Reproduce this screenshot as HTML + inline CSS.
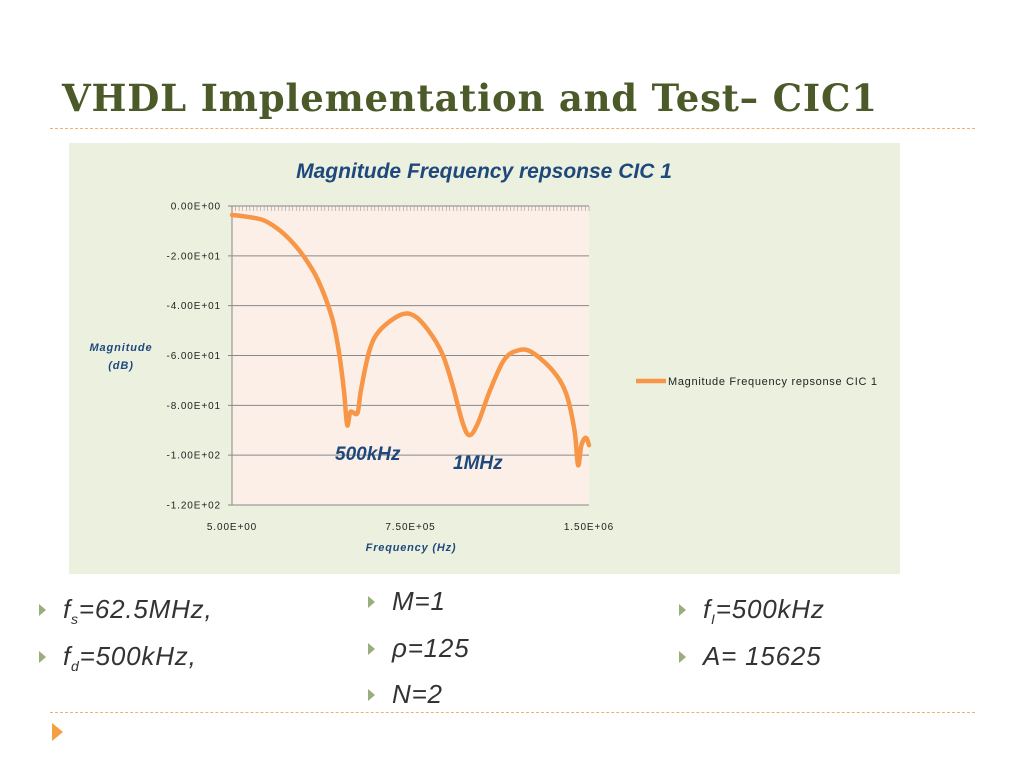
<!DOCTYPE html>
<html><head><meta charset="utf-8"><style>
body{margin:0;width:1024px;height:768px;background:#fff;position:relative;overflow:hidden;font-family:"Liberation Sans",sans-serif}
.title{position:absolute;left:62px;top:76px;font-family:"DejaVu Serif","Liberation Serif",serif;font-weight:bold;font-size:37px;letter-spacing:0.8px;color:#4b5a28;white-space:nowrap}
.dash{position:absolute;left:50px;width:925px;border-top:1px dashed #f0b070}
.b{position:absolute;font-style:italic;font-size:26px;color:#333;white-space:nowrap;letter-spacing:0.8px}
.b::before{content:"";position:absolute;left:-24px;top:10px;border-left:7px solid #98ae7c;border-top:6px solid transparent;border-bottom:6px solid transparent}
sub{font-size:14px}
</style></head><body>
<div class="title">VHDL Implementation and Test– CIC1</div>
<div class="dash" style="top:128px"></div>
<svg id="chart" style="position:absolute;left:0;top:0" width="1024" height="768"></svg>
<div class="b" style="left:63px;top:594px">f<sub>s</sub>=62.5MHz,</div>
<div class="b" style="left:63px;top:641px">f<sub>d</sub>=500kHz,</div>
<div class="b" style="left:392px;top:586px">M=1</div>
<div class="b" style="left:392px;top:633px">ρ=125</div>
<div class="b" style="left:392px;top:679px">N=2</div>
<div class="b" style="left:703px;top:594px">f<sub>I</sub>=500kHz</div>
<div class="b" style="left:703px;top:641px">A= 15625</div>
<div class="dash" style="top:712px"></div>
<div style="position:absolute;left:52px;top:723px;border-left:11px solid #f4a040;border-top:9px solid transparent;border-bottom:9px solid transparent"></div>
<script>
const freqs=[5,60e3,129e3,190e3,244e3,302e3,361e3,419e3,448e3,470e3,484e3,498e3,527e3,542e3,578e3,622e3,708e3,766e3,824e3,882e3,924e3,969e3,998e3,1034e3,1084e3,1143e3,1200e3,1258e3,1345e3,1403e3,1439e3,1454e3,1468e3,1487e3,1500e3];
const mags=[-3.6,-4.3,-5.6,-9,-13.6,-20.3,-29.7,-44.4,-57.8,-73.8,-87.9,-82.6,-83.1,-73.8,-57.8,-49.8,-43.7,-44.1,-49.8,-59,-71,-87,-92,-87,-74,-61.8,-58,-58.6,-65.8,-75,-90,-104,-96,-93,-96];
const yTicks=[0,-20,-40,-60,-80,-100,-120];
const yLabels=["0.00E+00","-2.00E+01","-4.00E+01","-6.00E+01","-8.00E+01","-1.00E+02","-1.20E+02"];
const xTicks=[5,750000,1500000];
const xLabels=["5.00E+00","7.50E+05","1.50E+06"];
const NS="http://www.w3.org/2000/svg",svg=document.getElementById('chart');
const X0=232,X1=589,Y0=206,Y1=505;
const sx=v=>X0+(v-5)/(1500000-5)*(X1-X0);
const sy=v=>Y0+(0-v)/120*(Y1-Y0);
function mk(t,a,p){const e=document.createElementNS(NS,t);for(const k in a)e.setAttribute(k,a[k]);(p||svg).appendChild(e);return e;}
let e;
e=mk('rect',{x:69,y:143,width:831,height:431,fill:'#ebf1de'});


e=mk('rect',{x:X0,y:Y0,width:X1-X0,height:Y1-Y0,fill:'#fcefe8'});


e=mk('text',{x:484,y:178,'text-anchor':'middle','font-size':21,'font-weight':'bold','font-style':'italic',fill:'#1f497d'});
e.textContent='Magnitude Frequency repsonse CIC 1';


yTicks.forEach((v,i)=>{
 const g=mk('line',{x1:X0-4,x2:X1,y1:sy(v),y2:sy(v),stroke:'#888','stroke-width':1});
 
 
 const t=mk('text',{x:X0-11,y:sy(v)+3.5,'text-anchor':'end','font-size':10,'letter-spacing':0.9,fill:'#222'});
 t.textContent=yLabels[i];
 
 
});
for(let i=0;i<=100;i++){const xx=X0+i*(X1-X0)/100;mk('line',{x1:xx,x2:xx,y1:Y0,y2:Y0+5,stroke:'#999','stroke-width':0.6});}
e=mk('line',{x1:X0,x2:X0,y1:Y0,y2:Y1,stroke:'#888'});


xTicks.forEach((v,i)=>{
 const t=mk('text',{x:sx(v),y:Y1+25,'text-anchor':'middle','font-size':10,'letter-spacing':0.9,fill:'#222'});
 t.textContent=xLabels[i];
 
 
});
e=mk('text',{x:411,y:551,'text-anchor':'middle','font-size':11,'letter-spacing':0.8,'font-weight':'bold','font-style':'italic',fill:'#1f497d'});
e.textContent='Frequency  (Hz)';


e=mk('text',{x:121,y:351,'text-anchor':'middle','font-size':11,'letter-spacing':0.9,'font-weight':'bold','font-style':'italic',fill:'#1f497d'});
e.textContent='Magnitude';


e=mk('text',{x:121,y:369,'text-anchor':'middle','font-size':11,'letter-spacing':0.9,'font-weight':'bold','font-style':'italic',fill:'#1f497d'});
e.textContent='(dB)';


const P=freqs.map((f,i)=>[sx(f),sy(mags[i])]);
let d='M'+P[0][0]+','+P[0][1];
for(let i=0;i<P.length-1;i++){const p0=P[Math.max(0,i-1)],p1=P[i],p2=P[i+1],p3=P[Math.min(P.length-1,i+2)];
 d+=' C'+(p1[0]+(p2[0]-p0[0])/6)+','+(p1[1]+(p2[1]-p0[1])/6)+' '+(p2[0]-(p3[0]-p1[0])/6)+','+(p2[1]-(p3[1]-p1[1])/6)+' '+p2[0]+','+p2[1];}
e=mk('path',{d:d,fill:'none',stroke:'#f79646','stroke-width':4.5,'stroke-linejoin':'round','stroke-linecap':'round'});


e=mk('text',{x:335,y:460,'font-size':19,'font-weight':'bold','font-style':'italic',fill:'#1f497d'});
e.textContent='500kHz';


e=mk('text',{x:453,y:469,'font-size':19,'font-weight':'bold','font-style':'italic',fill:'#1f497d'});
e.textContent='1MHz';


e=mk('line',{x1:636,x2:666,y1:381,y2:381,stroke:'#f79646','stroke-width':4.5});


e=mk('text',{x:668,y:385,'font-size':11,'letter-spacing':0.7,fill:'#222'});
e.textContent='Magnitude Frequency repsonse CIC 1';


</script>
</body></html>
